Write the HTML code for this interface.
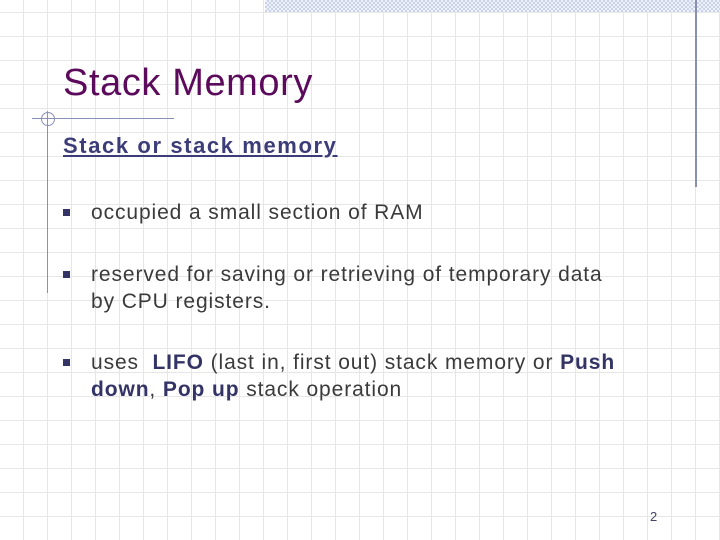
<!DOCTYPE html>
<html><head><meta charset="utf-8"><style>
html,body{margin:0;padding:0}
body{width:720px;height:540px;position:relative;overflow:hidden;background:#fff;
background-image:
repeating-linear-gradient(0deg,transparent 0 23px,#e6e6e6 23px 24px),
repeating-linear-gradient(90deg,transparent 0 23px,#e6e6e6 23px 24px);
font-family:"Liberation Sans",sans-serif}
.band{position:absolute;left:265px;top:0;width:455px;height:12px;
background-color:#e8edf7;background-image:repeating-conic-gradient(#c9d3ea 0 25%,#eef1f9 0 50%);background-size:4px 4px}
.abs{position:absolute}
.t{position:absolute;left:63px;top:62px;font-size:38px;color:#5c0a5c;letter-spacing:0.6px}
.s{position:absolute;left:63px;top:133px;font-size:22px;font-weight:bold;color:#3c3c78;text-decoration:underline;letter-spacing:1.6px}
.b{position:absolute;left:91px;font-size:21px;color:#3a3a3a;line-height:27px;width:620px;letter-spacing:0.9px}
.b:before{content:"";position:absolute;left:-28px;top:10px;width:7px;height:7px;background:#333366}
.b strong{color:#333366}
</style></head><body>
<div class="band"></div>
<div class="abs" style="left:695px;top:0;width:2px;height:187px;background:#8890b0"></div>
<div class="abs" style="left:47px;top:111px;width:1px;height:182px;background:#8890b8"></div>
<div class="abs" style="left:32px;top:118px;width:142px;height:1px;background:#8890b8"></div>
<div class="abs" style="left:41px;top:112px;width:12px;height:12px;border:1px solid #8890b8;border-radius:50%"></div>
<div class="t">Stack Memory</div>
<div class="s">Stack or stack memory</div>
<div class="b" style="top:199px">occupied a small section of RAM</div>
<div class="b" style="top:261px">reserved for saving or retrieving of temporary data<br>by CPU registers.</div>
<div class="b" style="top:349px">uses &nbsp;<strong>LIFO</strong> (last in, first out) stack memory or <strong>Push<br>down</strong>, <strong>Pop up</strong> stack operation</div>
<div class="abs" style="left:650px;top:509px;font-size:13px;color:#444466">2</div>
</body></html>
